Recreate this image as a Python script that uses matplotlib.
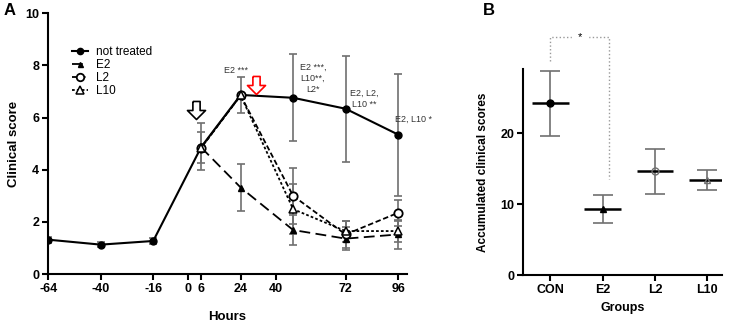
import matplotlib.pyplot as plt
import numpy as np
from matplotlib.path import Path

plt.rcParams['font.family'] = ['Liberation Sans', 'DejaVu Sans']
plt.rcParams['axes.unicode_minus'] = False

# panel A data
hours = [-64, -40, -16, 6, 24, 48, 72, 96]
not_treated = [1.32, 1.13, 1.27, 4.88, 6.87, 6.76, 6.34, 5.35]
not_treated_err = [0.12, 0.1, 0.12, 0.9, 0.7, 1.66, 2.03, 2.34]

hours_tr = [6, 24, 48, 72, 96]
e2 = [4.85, 3.32, 1.69, 1.36, 1.52]
e2_err = [0.6, 0.91, 0.58, 0.45, 0.55]
l2 = [4.85, 6.85, 3.0, 1.52, 2.35]
l2_err = [0.6, 0.7, 1.07, 0.5, 0.51]
l10 = [4.85, 6.85, 2.49, 1.65, 1.65]
l10_err = [0.6, 0.7, 0.95, 0.4, 0.4]

# panel B data
groups = ['CON', 'E2', 'L2', 'L10']
acc_mean = [24.2, 9.3, 14.6, 13.4]
acc_err = [4.6, 2.0, 3.2, 1.4]

fig = plt.figure(figsize=(7.37, 3.24), dpi=100)
axA = fig.add_axes([0.0655, 0.154, 0.4865, 0.805])
axB = fig.add_axes([0.710, 0.151, 0.269, 0.635])

grey = '#707070'

for ax in (axA, axB):
    ax.spines['top'].set_visible(False)
    ax.spines['right'].set_visible(False)
    ax.spines['left'].set_linewidth(1.5)
    ax.spines['bottom'].set_linewidth(1.5)
    ax.tick_params(width=1.5, length=4, labelsize=9, pad=2.5)

ebkw = dict(fmt='none', ecolor=grey, elinewidth=1.2, capsize=3, capthick=1.2)
axA.errorbar(hours, not_treated, yerr=not_treated_err, **ebkw)
axA.errorbar(hours_tr, e2, yerr=e2_err, **ebkw)
axA.errorbar(hours_tr[2:], l2[2:], yerr=l2_err[2:], **ebkw)
axA.errorbar(hours_tr[2:], l10[2:], yerr=l10_err[2:], **ebkw)

axA.plot(hours, not_treated, '-', color='black', lw=1.5, marker='o', ms=5, label='not treated')
axA.plot(hours_tr, e2, color='black', lw=1.3, ls=(0, (6, 3)), marker='^', ms=4, label='E2')
axA.plot(hours_tr, l2, color='black', lw=1.3, ls=(0, (3, 1.5)), marker='o', ms=6,
         mfc='white', mew=1.3, label='L2')
axA.plot(hours_tr, l10, color='black', lw=1.3, ls=(0, (1.5, 1.2)), marker='^', ms=6,
         mfc='white', mew=1.1, label='L10')

axA.set_xlim(-64, 100)
axA.set_ylim(0, 10)
axA.set_xticks([-64, -40, -16, 0, 6, 24, 40, 72, 96])
axA.set_yticks([0, 2, 4, 6, 8, 10])
for lab in axA.get_xticklabels() + axA.get_yticklabels():
    lab.set_fontweight('bold')
axA.set_xlabel('Hours', fontsize=9.5, fontweight='bold')
axA.xaxis.set_label_coords(0.5, -0.14)
axA.set_ylabel('Clinical score', fontsize=9.5, fontweight='bold')

axA.legend(loc='upper left', bbox_to_anchor=(0.067, 0.875), frameon=False,
           fontsize=8.5, handlelength=1.3, handletextpad=0.7, labelspacing=0.1,
           borderpad=0, borderaxespad=0, markerscale=0.9)

ann_color = '#333333'
axA.text(22, 7.8, 'E2 ***', fontsize=6.5, color=ann_color, ha='center', va='center')
axA.text(57, 7.5, 'E2 ***,\nL10**,\nL2*', fontsize=6.5, color=ann_color, ha='center',
         va='center', linespacing=1.3)
axA.text(80.5, 6.72, 'E2, L2,\nL10 **', fontsize=6.5, color=ann_color, ha='center',
         va='center', linespacing=1.3)
axA.text(103, 5.93, 'E2, L10 *', fontsize=6.5, color=ann_color, ha='center', va='center')

# treatment arrows (block arrow marker pointing down)
arrow = Path([(-0.2, 0.5), (0.2, 0.5), (0.2, 0.0), (0.5, 0.0), (0.0, -0.5),
              (-0.5, 0.0), (-0.2, 0.0), (-0.2, 0.5)])
axA.plot(3.6, 6.3, marker=arrow, ms=13, mfc='white', mec='black', mew=1.2)
axA.plot(31, 7.25, marker=arrow, ms=13, mfc='white', mec='red', mew=1.2)

fig.text(0.005, 0.955, 'A', fontsize=12, fontweight='bold')
fig.text(0.655, 0.955, 'B', fontsize=12, fontweight='bold')

# panel B
pos = np.arange(len(groups))
axB.errorbar(pos, acc_mean, yerr=acc_err, fmt='none', ecolor=grey, elinewidth=1.2,
             capsize=7, capthick=1.2)
axB.hlines(acc_mean, pos - 0.35, pos + 0.35, color='black', lw=1.8)
markers = [('o', 'black'), ('^', 'black'), ('o', 'none'), ('^', 'none')]
for p, m, (mk, fc) in zip(pos, acc_mean, markers):
    axB.plot(p, m, marker=mk, ms=5, mfc=fc, mec='black' if fc == 'black' else grey, mew=1)
axB.set_xlim(-0.52, 3.27)
axB.set_ylim(0, 29)
axB.set_xticks(pos)
axB.set_xticklabels(groups)
axB.set_yticks([0, 10, 20])
for lab in axB.get_xticklabels() + axB.get_yticklabels():
    lab.set_fontweight('bold')
axB.set_xlabel('Groups', fontsize=9, fontweight='bold')
axB.set_ylabel('Accumulated clinical scores', fontsize=8.5, fontweight='bold', labelpad=8)

# significance bracket CON vs E2
axB.plot([pos[0], pos[0], pos[1] + 0.12, pos[1] + 0.12], [30.2, 33.5, 33.5, 13.6],
         color='#999999', lw=1, ls=':', clip_on=False)
axB.text((pos[0] + pos[1] + 0.12) / 2, 33.5, '*', fontsize=8, ha='center', va='center',
         backgroundcolor='white', clip_on=False)

fig.savefig('out.png', dpi=100)
